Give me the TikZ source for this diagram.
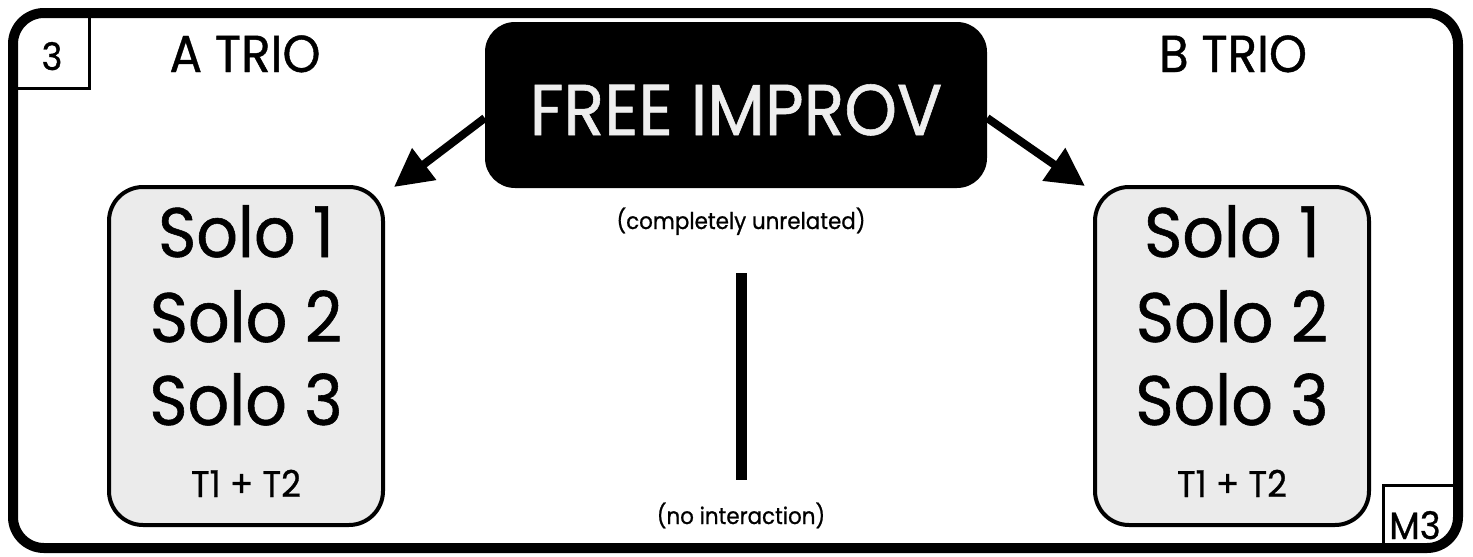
\documentclass[tikz,border=0pt]{standalone}
\usepackage{fontspec}
\setmainfont{Poppins}[FakeStretch=0.93,FakeBold=0.8]
\usetikzlibrary{arrows.meta,positioning}
\definecolor{panel}{HTML}{EBEBEB}
\definecolor{chalk}{HTML}{EEEEEE}
\definecolor{ink}{HTML}{000000}

\begin{document}
\begin{tikzpicture}[x=1pt,y=-1pt,
  frame/.style={draw=ink,line width=10pt,rounded corners=31pt},
  tagline/.style={draw=ink,line width=3pt},
  tagtext/.style={inner sep=0pt,anchor=base},
  trio/.style={inner sep=0pt,anchor=base,font=\fontsize{52}{60}\selectfont},
  bigbox/.style={fill=ink,rounded corners=30pt,minimum width=502pt,minimum height=166pt,inner sep=0pt,
    text=chalk,text height=60pt,text depth=0pt,font=\fontsize{72}{76}\selectfont},
  solobox/.style={draw=ink,line width=4pt,fill=panel,rounded corners=34pt,minimum width=274pt,minimum height=338pt},
  solo/.style={inner sep=0pt,anchor=base,font=\fontsize{70}{80}\selectfont},
  pair/.style={inner sep=0pt,anchor=base,font=\fontsize{37}{40}\selectfont},
  note/.style={inner sep=0pt,anchor=base,font=\fontsize{23}{28}\selectfont},
  arr/.style={-{Triangle[length=38pt,width=38pt]},line width=8pt,ink},
  bar/.style={line width=11pt,ink}]
\useasboundingbox (0,0) rectangle (1473,557);
\fill[white] (0,0) rectangle (1473,557);

% corner tags
\draw[tagline] (13,88) -| (89,13);
\node[tagtext] (num) at (52,70) {\fontsize{38}{40}\selectfont 3};
\draw[tagline] (1383,548) |- (1458,485);
\node[tagtext] (mark) at (1415,539) {\fontsize{38}{42}\selectfont M3};

% outer frame
\draw[frame] (13,13) rectangle (1458,548);

% headings
\node[trio] (trioA) at (245,72) {A TRIO};
\node[trio] (trioB) at (1233,72) {B TRIO};
\node[bigbox] (free) at (736,105) {FREE IMPROV};

% trio boxes
\node[solobox] (soloA) at (246,356) {};
\node[solo] (a1) at (246,257) {Solo 1};
\node[solo] (a2) at (246,342) {Solo 2};
\node[solo] (a3) at (246,425) {Solo 3};
\node[pair] (aT) at (246,497) {T1 + T2};

\node[solobox] (soloB) at (1232,356) {};
\node[solo] (b1) at (1232,257) {Solo 1};
\node[solo] (b2) at (1232,342) {Solo 2};
\node[solo] (b3) at (1232,425) {Solo 3};
\node[pair] (bT) at (1232,497) {T1 + T2};

\draw[arr] ([yshift=-13pt]free.west) -- ([xshift=9pt,yshift=-2pt]soloA.north east);
\draw[arr] ([yshift=-13pt]free.east) -- ([xshift=-8pt,yshift=-1pt]soloB.north west);

% middle
\node[note] (unrel) at (741,229) {(completely unrelated)};
\node[note] (nointer) at (741,524) {(no interaction)};
\draw[bar] ([yshift=-38pt]unrel.south) -- ([yshift=22pt]nointer.north);
\end{tikzpicture}
\end{document}
